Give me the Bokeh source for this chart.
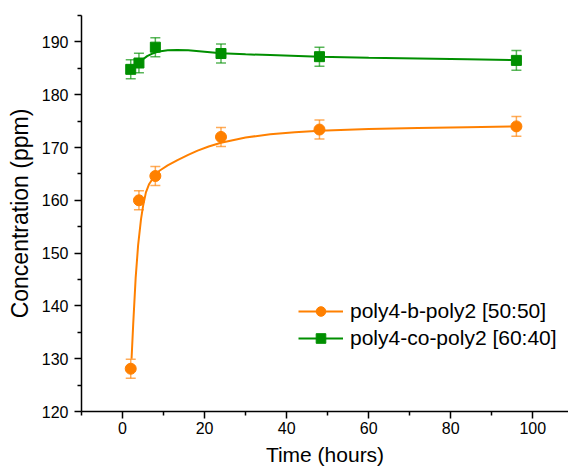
from bokeh.plotting import figure
from bokeh.models import (Range1d, FixedTicker, Whisker, TeeHead, ColumnDataSource,
                          Legend, LegendItem)
from bokeh.embed import file_html
from bokeh.resources import INLINE

# ---- data ----
time_h = [2, 4, 8, 24, 48, 96]
block_ppm = [128.1, 160.0, 164.6, 172.0, 173.4, 174.0]
block_err = [1.8, 1.8, 1.8, 1.8, 1.8, 1.85]
co_ppm = [184.8, 186.0, 189.0, 187.8, 187.2, 186.5]
co_err = [1.8, 1.85, 1.8, 1.8, 1.8, 1.85]

# fitted curves
block_fit_x = [2.2, 2.6, 3.2, 3.8, 4.5, 5.0, 5.7, 6.5, 7.7, 9.0, 11.0, 13.4, 16.0, 18.3,
               21.0, 24.0, 30, 36, 42, 48, 60, 72, 84, 96]
block_fit_y = [130.0, 136.5, 145.3, 151.5, 156.4, 158.9, 161.5, 163.1, 164.5, 165.6,
               166.6, 167.6, 168.6, 169.4, 170.2, 170.9, 171.9, 172.5, 172.9, 173.15,
               173.5, 173.7, 173.85, 174.0]
co_fit_x = [2, 3, 4, 5, 6, 7, 8, 9.3, 11, 13.3, 16, 20, 24, 30, 36, 48, 60, 72, 84, 96]
co_fit_y = [184.8, 185.5, 186.1, 186.7, 187.3, 187.7, 188.0, 188.25, 188.4, 188.45,
            188.4, 188.15, 187.85, 187.65, 187.5, 187.2, 187.0, 186.85, 186.7, 186.55]

x_ticks = [0, 20, 40, 60, 80, 100]
x_minor = [-10, 10, 30, 50, 70, 90]
y_ticks = [120, 130, 140, 150, 160, 170, 180, 190]
y_minor = [125, 135, 145, 155, 165, 175, 185, 195]

labels = ["poly4-b-poly2 [50:50]", "poly4-co-poly2 [60:40]"]
orange = "#FF8000"
green = "#008F00"
FONT = "Liberation Sans"

p = figure(width=568, height=471, output_backend="svg", toolbar_location=None,
           x_range=Range1d(-10, 108.7), y_range=Range1d(120, 195),
           min_border_left=81, min_border_right=0, min_border_top=15, min_border_bottom=60)
p.outline_line_color = None
p.grid.visible = False
p.background_fill_color = "white"

p.xaxis.ticker = FixedTicker(ticks=x_ticks, minor_ticks=x_minor)
p.yaxis.ticker = FixedTicker(ticks=y_ticks, minor_ticks=y_minor)
for ax in (p.xaxis, p.yaxis):
    ax.axis_line_width = 1.5
    ax.axis_line_color = "black"
    ax.major_tick_line_width = 1.5
    ax.minor_tick_line_width = 1.5
    ax.major_tick_line_color = "black"
    ax.minor_tick_line_color = "black"
    ax.major_tick_in = 0
    ax.major_tick_out = 7
    ax.minor_tick_in = 0
    ax.minor_tick_out = 4
    ax.major_label_text_font = FONT
    ax.major_label_text_font_size = "16px"
    ax.major_label_text_color = "black"
    ax.axis_label_text_font = FONT
    ax.axis_label_text_font_style = "normal"
    ax.axis_label_text_color = "black"

p.xaxis.axis_label = "Time (hours)"
p.xaxis.axis_label_text_font_size = "21px"
p.xaxis.major_label_standoff = 3
p.xaxis.axis_label_standoff = 6
p.yaxis.axis_label = "Concentration (ppm)"
p.yaxis.axis_label_text_font_size = "23px"
p.yaxis.major_label_standoff = 6
p.yaxis.axis_label_standoff = 6

# fits
l1 = p.line(block_fit_x, block_fit_y, line_color=orange, line_width=2)
l2 = p.line(co_fit_x, co_fit_y, line_color=green, line_width=2)

# error bars
for ys, es, col in ((block_ppm, block_err, orange), (co_ppm, co_err, green)):
    src = ColumnDataSource(dict(x=time_h,
                                lo=[a - b for a, b in zip(ys, es)],
                                hi=[a + b for a, b in zip(ys, es)]))
    w = Whisker(source=src, base="x", lower="lo", upper="hi",
                line_color=col, line_width=1.5, line_alpha=0.65,
                upper_head=TeeHead(size=10, line_color=col, line_width=1.5, line_alpha=0.65),
                lower_head=TeeHead(size=10, line_color=col, line_width=1.5, line_alpha=0.65))
    p.add_layout(w)

s1 = p.scatter(time_h, block_ppm, marker="circle", size=11, fill_color=orange, line_color=orange)
s2 = p.scatter(time_h, co_ppm, marker="square", size=10, fill_color=green, line_color=green)

legend = Legend(items=[LegendItem(label=labels[0], renderers=[l1, s1]),
                       LegendItem(label=labels[1], renderers=[l2, s2])],
                location=(217, 61), border_line_color=None, background_fill_alpha=0,
                padding=0, margin=0, spacing=3, glyph_width=45, glyph_height=24,
                label_height=24, label_standoff=7,
                label_text_font=FONT, label_text_font_size="21px",
                label_text_color="black")
p.add_layout(legend)

open("out.html", "w").write(file_html(p, INLINE))
